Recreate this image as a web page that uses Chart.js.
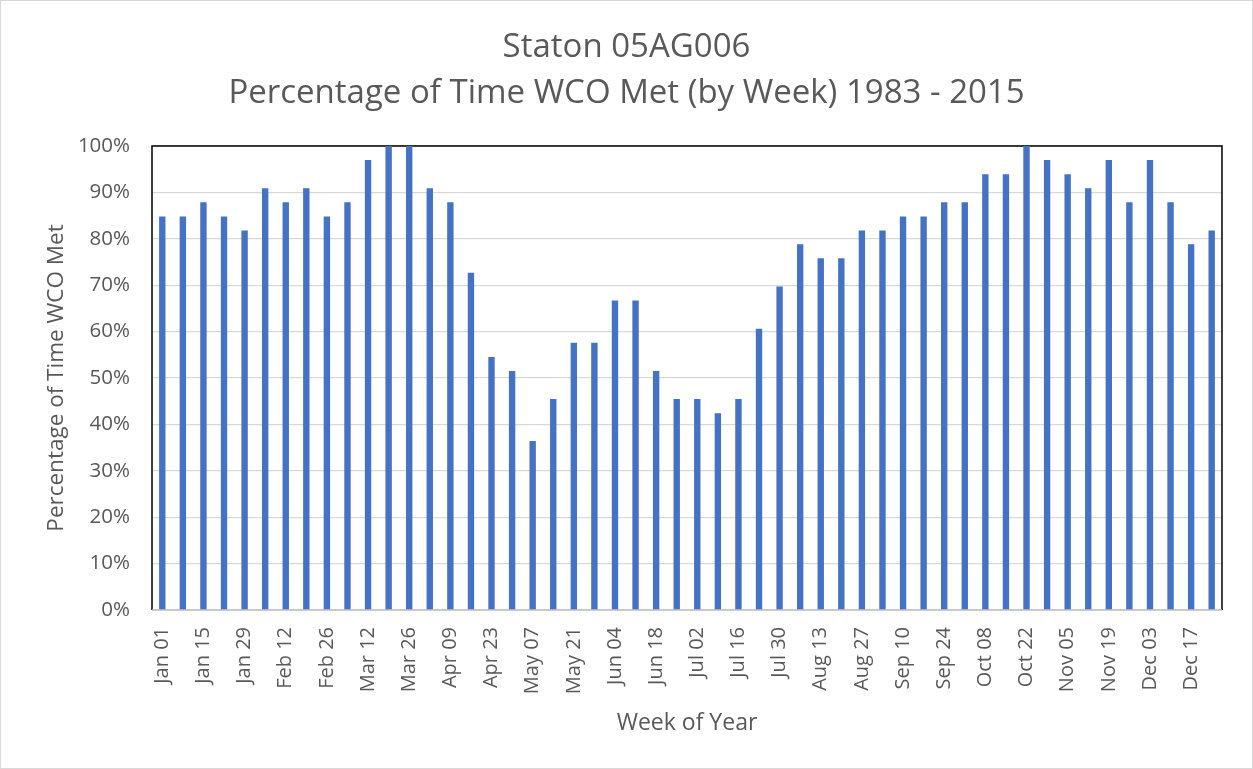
<!DOCTYPE html>
<html>
<head>
<meta charset="utf-8">
<title>Staton 05AG006 - Percentage of Time WCO Met</title>
<script src="https://cdn.jsdelivr.net/npm/chart.js@4.4.1/dist/chart.umd.min.js"></script>
<style>
  html, body { margin: 0; padding: 0; background: #ffffff; }
  #wrap { width: 1253px; height: 769px; position: relative; }
</style>
</head>
<body>
<div id="wrap"><canvas id="wco"></canvas></div>
<script>
// week starting dates (one bar per week)
const weeks = [
  "Jan 01", "Jan 08", "Jan 15", "Jan 22", "Jan 29", "Feb 05", "Feb 12", "Feb 19", "Feb 26",
  "Mar 05", "Mar 12", "Mar 19", "Mar 26", "Apr 02", "Apr 09", "Apr 16", "Apr 23", "Apr 30",
  "May 07", "May 14", "May 21", "May 28", "Jun 04", "Jun 11", "Jun 18", "Jun 25", "Jul 02",
  "Jul 09", "Jul 16", "Jul 23", "Jul 30", "Aug 06", "Aug 13", "Aug 20", "Aug 27", "Sep 03",
  "Sep 10", "Sep 17", "Sep 24", "Oct 01", "Oct 08", "Oct 15", "Oct 22", "Oct 29", "Nov 05",
  "Nov 12", "Nov 19", "Nov 26", "Dec 03", "Dec 10", "Dec 17", "Dec 24"
];

// percentage of years (1983 - 2015) the WCO was met in each week
const pctMet = [
  84.8, 84.8, 87.9, 84.8, 81.8, 90.9, 87.9, 90.9, 84.8,
  87.9, 97.0, 100, 100, 90.9, 87.9, 72.7, 54.5, 51.5,
  36.4, 45.5, 57.6, 57.6, 66.7, 66.7, 51.5, 45.5, 45.5,
  42.4, 45.5, 60.6, 69.7, 78.8, 75.8, 75.8, 81.8, 81.8,
  84.8, 84.8, 87.9, 87.9, 93.9, 93.9, 100, 97.0, 93.9,
  90.9, 97.0, 87.9, 97.0, 87.9, 78.8, 81.8
];

const titleLines = ["Staton 05AG006", "Percentage of Time WCO Met (by Week) 1983 - 2015"];
const grey = "#595959";

Chart.defaults.font.family = "'Open Sans', sans-serif";
Chart.defaults.color = grey;

// plot frame (black on top/left/right, grey axis line at bottom) + outer chart border
const frame = {
  id: "frame",
  beforeDatasetsDraw(chart) {
    const { ctx, chartArea: a } = chart;
    ctx.save();
    ctx.strokeStyle = "#000000";
    ctx.lineWidth = 1.5;
    ctx.beginPath();
    ctx.moveTo(a.left, a.bottom);
    ctx.lineTo(a.left, a.top);
    ctx.lineTo(a.right, a.top);
    ctx.lineTo(a.right, a.bottom);
    ctx.stroke();
    ctx.strokeStyle = "#bfbfbf";
    ctx.beginPath();
    ctx.moveTo(a.left, a.bottom);
    ctx.lineTo(a.right, a.bottom);
    ctx.stroke();
    ctx.restore();
  },
  afterDraw(chart) {
    const ctx = chart.ctx;
    ctx.save();
    ctx.strokeStyle = "#d9d9d9";
    ctx.lineWidth = 1;
    ctx.strokeRect(0.5, 0.5, chart.width - 1, chart.height - 1);
    ctx.restore();
  }
};

new Chart(document.getElementById("wco"), {
  type: "bar",
  plugins: [frame],
  data: {
    labels: weeks,
    datasets: [{
      data: pctMet,
      backgroundColor: "#4472C4",
      barPercentage: 0.31,
      categoryPercentage: 1.0,
    }],
  },
  options: {
    responsive: true,
    maintainAspectRatio: false,
    animation: false,
    layout: { padding: 0 },
    plugins: {
      legend: { display: false },
      tooltip: { enabled: false },
      title: {
        display: true,
        text: titleLines,
        color: grey,
        font: { size: 33, weight: "normal", lineHeight: "46px" },
        padding: { top: 25, bottom: 29 },
      },
    },
    scales: {
      x: {
        grid: { display: false, drawTicks: false },
        border: { display: false },
        ticks: {
          autoSkip: false,
          maxRotation: 90,
          minRotation: 90,
          padding: 17,
          color: grey,
          font: { size: 20 },
          callback: (val, i) => (i % 2 === 0 ? weeks[i] : ""), // label every second week
        },
        title: {
          display: true,
          text: "Week of Year",
          color: grey,
          font: { size: 23 },
          padding: { top: 0, bottom: 32 },
        },
        afterFit: (scale) => { scale.height = 159; },
      },
      y: {
        min: 0,
        max: 100,
        grid: { color: "#d9d9d9", lineWidth: 1.3, drawTicks: false },
        border: { display: false },
        ticks: {
          stepSize: 10,
          padding: 22,
          color: grey,
          font: { size: 20.5 },
          callback: (v) => v + "%",
        },
        title: {
          display: true,
          text: "Percentage of Time WCO Met",
          color: grey,
          font: { size: 22.5 },
          padding: { top: 43, bottom: 0 },
        },
        afterFit: (scale) => { scale.width = 152; },
      },
      // empty right-hand axis, only reserves the right margin so the title stays centred on the page
      yRight: {
        position: "right",
        grid: { display: false, drawTicks: false },
        border: { display: false },
        ticks: { display: false },
        afterFit: (scale) => { scale.width = 31; },
      },
    },
  },
});
</script>
</body>
</html>
